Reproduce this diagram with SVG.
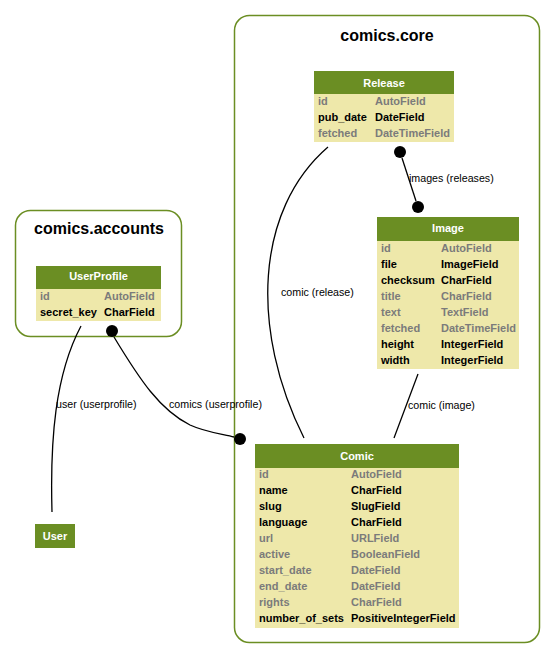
<svg xmlns="http://www.w3.org/2000/svg" width="556" height="660" viewBox="0 0 556 660">
<style>
.cl{fill:#fff;stroke:#6b8e23;stroke-width:1.5}
.ct{font-family:"Liberation Sans",Arial,sans-serif;font-weight:bold;font-size:16px;text-anchor:middle;fill:#000}
.hd{fill:#6b8e23}
.bd{fill:#eee8aa}
.ht{font-family:"Liberation Sans",Arial,sans-serif;font-weight:bold;font-size:11px;text-anchor:middle;fill:#fff}
.f{font-family:"Liberation Sans",Arial,sans-serif;font-weight:bold;font-size:11px;fill:#000}
.g{fill:#7b7b7b}
.e{fill:none;stroke:#000;stroke-width:1.3}
.d{fill:#000}
.lb{font-family:"Liberation Sans",Arial,sans-serif;font-size:10.67px;fill:#000}
</style>
<rect x="0" y="0" width="556" height="660" fill="#fff"/>
<g id="cluster_core">
<rect class="cl" x="234.5" y="15.5" width="305" height="627" rx="15"/>
<text class="ct" x="387" y="41">comics.core</text>
</g>
<g id="cluster_accounts">
<rect class="cl" x="15.5" y="210.5" width="166" height="126" rx="15"/>
<text class="ct" x="99" y="234">comics.accounts</text>
</g>
<g id="connectors">
<path class="e" d="M328,147 C255,210 250,330 304,438"/>
<text class="lb" x="281" y="296">comic (release)</text>
<path class="e" d="M402,158 L416,201"/>
<circle class="d" cx="400" cy="152" r="6"/>
<circle class="d" cx="418" cy="207" r="6"/>
<text class="lb" x="409" y="182">images (releases)</text>
<path class="e" d="M418,374 L394,438"/>
<text class="lb" x="408" y="409">comic (image)</text>
<path class="e" d="M81,326 C55,375 50,440 52,512"/>
<text class="lb" x="56" y="408">user (userprofile)</text>
<path class="e" d="M114,337 C140,380 160,410 190,425 C205,432 222,434 234,437"/>
<circle class="d" cx="112" cy="331" r="6"/>
<circle class="d" cx="240" cy="439" r="6"/>
<text class="lb" x="169" y="408">comics (userprofile)</text>
</g>
<g id="Release">
<rect class="hd" x="314" y="71" width="140" height="23"/>
<rect class="bd" x="314" y="94" width="140" height="48"/>
<text class="ht" x="384" y="86.5">Release</text>
<text class="f g" x="318" y="105">id</text><text class="f g" x="375" y="105">AutoField</text>
<text class="f" x="318" y="121">pub_date</text><text class="f" x="375" y="121">DateField</text>
<text class="f g" x="318" y="137">fetched</text><text class="f g" x="375" y="137">DateTimeField</text>
</g>
<g id="Image">
<rect class="hd" x="377" y="217" width="142" height="24"/>
<rect class="bd" x="377" y="241" width="142" height="128"/>
<text class="ht" x="448" y="232">Image</text>
<text class="f g" x="381" y="252">id</text><text class="f g" x="441" y="252">AutoField</text>
<text class="f" x="381" y="268">file</text><text class="f" x="441" y="268">ImageField</text>
<text class="f" x="381" y="284">checksum</text><text class="f" x="441" y="284">CharField</text>
<text class="f g" x="381" y="300">title</text><text class="f g" x="441" y="300">CharField</text>
<text class="f g" x="381" y="316">text</text><text class="f g" x="441" y="316">TextField</text>
<text class="f g" x="381" y="332">fetched</text><text class="f g" x="441" y="332">DateTimeField</text>
<text class="f" x="381" y="348">height</text><text class="f" x="441" y="348">IntegerField</text>
<text class="f" x="381" y="364">width</text><text class="f" x="441" y="364">IntegerField</text>
</g>
<g id="Comic">
<rect class="hd" x="255" y="444" width="204" height="24"/>
<rect class="bd" x="255" y="468" width="204" height="160"/>
<text class="ht" x="357" y="460">Comic</text>
<text class="f g" x="259" y="478">id</text><text class="f g" x="351" y="478">AutoField</text>
<text class="f" x="259" y="494">name</text><text class="f" x="351" y="494">CharField</text>
<text class="f" x="259" y="510">slug</text><text class="f" x="351" y="510">SlugField</text>
<text class="f" x="259" y="526">language</text><text class="f" x="351" y="526">CharField</text>
<text class="f g" x="259" y="542">url</text><text class="f g" x="351" y="542">URLField</text>
<text class="f g" x="259" y="558">active</text><text class="f g" x="351" y="558">BooleanField</text>
<text class="f g" x="259" y="574">start_date</text><text class="f g" x="351" y="574">DateField</text>
<text class="f g" x="259" y="590">end_date</text><text class="f g" x="351" y="590">DateField</text>
<text class="f g" x="259" y="606">rights</text><text class="f g" x="351" y="606">CharField</text>
<text class="f" x="259" y="622">number_of_sets</text><text class="f" x="351" y="622">PositiveIntegerField</text>
</g>
<g id="UserProfile">
<rect class="hd" x="36" y="266" width="125" height="23"/>
<rect class="bd" x="36" y="289" width="125" height="32"/>
<text class="ht" x="98.5" y="280">UserProfile</text>
<text class="f g" x="40" y="300">id</text><text class="f g" x="104" y="300">AutoField</text>
<text class="f" x="40" y="316">secret_key</text><text class="f" x="104" y="316">CharField</text>
</g>
<g id="User">
<rect class="hd" x="35" y="524" width="40" height="24"/>
<text class="ht" x="55" y="540">User</text>
</g>
</svg>
